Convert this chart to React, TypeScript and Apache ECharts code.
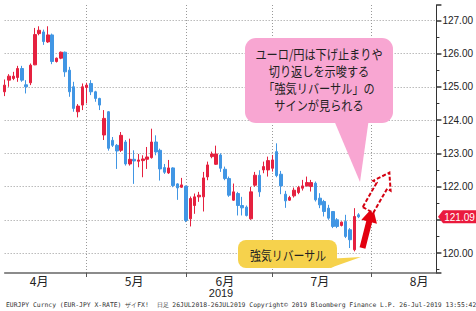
import React, { useEffect, useRef } from "react";
import * as echarts from "echarts";

// ---- data (EUR/JPY daily) ----
const firstDay = "2019-04-03";
const dayCount = 101; // trading days on the axis (Apr 3 .. Aug 21)
const monthLabelIdx = [8, 30, 51, 73, 96];
const lastPrice = 121.09;
const yTickLabels = ["120.00", "122.00", "123.00", "124.00", "125.00", "126.00", "127.00"];

const opens = [
  124.85, 125.2, 125.25, 125.28, 125.55, 125.06, 125.12, 125.66, 126.6, 126.65,
  126.35, 126.56, 125.76, 125.86, 126.04, 125.5, 125.0, 124.25, 124.45, 124.98,
  125.1, 124.85, 124.65, 123.55, 124.25, 123.39, 123.24, 123.09, 123.34, 122.68,
  122.82, 122.76, 122.78, 122.82, 122.87, 123.34, 123.09, 122.57, 122.41, 122.56,
  122.08, 121.98, 122.01, 121.03, 121.43, 121.69, 121.69, 122.29, 122.9, 122.67,
  122.95, 122.52, 122.24, 121.59, 121.79, 121.43, 121.38, 121.03, 122.04, 122.34,
  122.5, 122.5, 122.55, 123.05, 122.37, 121.77, 121.59, 121.72, 121.82, 121.95,
  122.02, 122.0, 122.1, 121.65, 121.55, 121.35, 121.25, 121.0, 120.83, 120.95,
  120.7, 120.1, 121.15,
];
const closes = [
  125.05, 125.32, 125.32, 125.55, 125.2, 125.0, 125.65, 126.57, 126.7, 126.36,
  126.56, 125.76, 125.86, 126.04, 125.45, 124.85, 124.35, 124.42, 125.0, 125.05,
  124.85, 124.65, 124.45, 124.05, 123.15, 123.24, 123.07, 123.54, 122.68, 122.82,
  122.77, 122.8, 122.83, 122.89, 123.34, 123.04, 122.53, 122.43, 122.56, 122.03,
  121.96, 122.05, 120.98, 121.64, 121.69, 121.74, 122.26, 122.65, 122.98, 122.98,
  122.55, 122.24, 121.74, 121.84, 121.43, 121.36, 121.13, 121.84, 122.34, 121.84,
  122.6, 122.78, 122.8, 122.33, 122.02, 121.57, 121.67, 121.89, 121.97, 122.02,
  122.12, 122.12, 121.6, 121.45, 121.25, 121.05, 120.8, 120.8, 120.93, 120.5,
  120.4, 121.1, 121.09,
];
const lows = [
  124.72, 125.0, 125.2, 125.15, 125.15, 124.8, 125.05, 125.65, 126.55, 126.26,
  126.32, 125.68, 125.73, 125.83, 125.3, 124.7, 124.25, 124.08, 124.3, 124.5,
  124.75, 124.55, 124.3, 123.4, 123.08, 123.19, 122.53, 123.04, 122.63, 122.63,
  122.08, 122.58, 122.28, 122.53, 122.84, 122.94, 122.18, 122.38, 122.38, 121.98,
  121.6, 121.96, 120.93, 120.8, 121.18, 121.54, 121.25, 122.19, 122.85, 122.65,
  122.44, 122.19, 121.69, 121.57, 121.13, 121.13, 121.1, 121.0, 121.99, 121.69,
  122.4, 122.3, 122.45, 122.28, 121.77, 121.36, 121.57, 121.67, 121.77, 121.88,
  122.0, 121.85, 121.55, 121.35, 121.1, 121.0, 120.75, 120.75, 120.8, 120.45,
  120.15, 120.05, 121.05,
];
const highs = [
  125.22, 125.38, 125.45, 125.63, 125.63, 125.2, 125.7, 126.77, 126.82, 126.72,
  126.82, 126.6, 125.88, 126.06, 126.06, 125.6, 125.15, 124.48, 125.1, 125.12,
  125.2, 124.88, 124.67, 124.3, 124.27, 123.49, 123.28, 123.64, 123.4, 123.44,
  123.09, 122.98, 122.94, 123.19, 123.74, 123.54, 123.14, 122.68, 122.8, 122.58,
  122.1, 122.26, 122.03, 121.7, 121.79, 121.84, 122.44, 122.75, 123.05, 123.23,
  123.0, 122.6, 122.3, 122.09, 121.84, 121.69, 121.43, 121.99, 122.44, 122.49,
  122.75, 122.9, 122.95, 123.3, 122.47, 121.87, 121.72, 121.97, 122.02, 122.2,
  122.3, 122.2, 122.15, 121.8, 121.6, 121.45, 121.25, 121.05, 120.95, 121.15,
  120.75, 121.35, 121.2,
];

const bubbleText = "ユーロ/円は下げ止まりや\n切り返しを示唆する\n「強気リバーサル」の\nサインが見られる";
const labelText = "強気リバーサル";
const yearText = "2019";
const sourceText =
  "EURJPY Curncy (EUR-JPY X-RATE) ザイFX!  日足 26JUL2018-26JUL2019 Copyright© 2019 Bloomberg Finance L.P. 26-Jul-2019 13:55:42";

// trading-day calendar for the category axis
const categories: string[] = (() => {
  const out: string[] = [];
  const d = new Date(firstDay + "T00:00:00Z");
  while (out.length < dayCount) {
    const wd = d.getUTCDay();
    if (wd !== 0 && wd !== 6) out.push(d.toISOString().slice(0, 10));
    d.setUTCDate(d.getUTCDate() + 1);
  }
  return out;
})();
const monthEndIdx: number[] = categories
  .map((c, i) => (i + 1 < categories.length && categories[i + 1].slice(5, 7) !== c.slice(5, 7) ? i : -1))
  .filter((i) => i >= 0);

const RED = "#e5213f";
const BLUE = "#4196e4";

export default function App() {
  const ref = useRef<HTMLDivElement>(null);
  useEffect(() => {
    if (!ref.current) return;
    const chart = echarts.init(ref.current, null, { renderer: "svg" });
    const ohlc = opens.map((o, i) => [o, closes[i], lows[i], highs[i]]);
    const isMonthEnd = (i: number) => monthEndIdx.indexOf(i) >= 0;
    chart.setOption({
      animation: false,
      backgroundColor: "#fff",
      textStyle: { fontFamily: "Noto Sans CJK JP" },
      grid: { left: 4.66, right: 39.5, top: 5, bottom: 38 },
      xAxis: {
        type: "category",
        data: categories,
        boundaryGap: false,
        axisLine: { lineStyle: { color: "#666", width: 1.5 } },
        axisTick: { interval: (i: number) => isMonthEnd(i), length: 4, lineStyle: { color: "#555" } },
        splitLine: {
          show: true,
          interval: (i: number) => isMonthEnd(i),
          lineStyle: { type: [1, 2], color: "#999", width: 1 },
        },
        axisLabel: {
          interval: (i: number) => monthLabelIdx.indexOf(i) >= 0,
          formatter: (v: string) => `${parseInt(v.slice(5, 7), 10)}月`,
          fontSize: 12,
          lineHeight: 12,
          color: "#222",
          margin: 1,
          fontFamily: "Noto Sans CJK JP",
        },
      },
      yAxis: {
        type: "value",
        position: "right",
        min: 119.4,
        max: 127.46,
        splitNumber: 8,
        minInterval: 1,
        maxInterval: 1,
        axisLine: { show: true, lineStyle: { color: "#333", width: 1 } },
        axisTick: { show: true, length: 5, lineStyle: { color: "#333", width: 1.5 } },
        minorTick: { show: true, splitNumber: 2, length: 3, lineStyle: { color: "#333" } },
        splitLine: {
          show: true,
          showMinLine: false,
          showMaxLine: false,
          lineStyle: { type: [1, 2], color: "#999", width: 1 },
        },
        axisLabel: {
          showMinLabel: false,
          showMaxLabel: false,
          margin: 6,
          fontSize: 10,
          color: "#222",
          fontFamily: "Liberation Sans",
          formatter: (v: number) => {
            const s = v.toFixed(2);
            return yTickLabels.indexOf(s) >= 0 ? s : "";
          },
        },
      },
      series: [
        {
          type: "candlestick",
          data: ohlc,
          barWidth: 3,
          itemStyle: { color: RED, color0: BLUE, borderColor: RED, borderColor0: BLUE, borderWidth: 1 },
        },
      ],
    });

    const yLast = chart.convertToPixel({ yAxisIndex: 0 }, lastPrice) as number;

    chart.setOption({
      graphic: [
        // pink speech bubble
        {
          type: "polygon",
          shape: { points: [[333, 118], [369, 118], [360, 182]] },
          style: { fill: "#f8a6d2" },
          z: 100,
        },
        {
          type: "rect",
          shape: { x: 245, y: 38, width: 148, height: 85, r: 11 },
          style: { fill: "#f8a6d2" },
          z: 100,
        },
        {
          type: "text",
          x: 319,
          y: 79,
          scaleX: 0.86,
          style: {
            text: bubbleText,
            textAlign: "center",
            textVerticalAlign: "middle",
            align: "center",
            verticalAlign: "middle",
            fontSize: 13,
            lineHeight: 17,
            fill: "#222",
            fontFamily: "Noto Sans CJK JP",
          },
          z: 101,
        },
        // yellow label
        {
          type: "polygon",
          shape: { points: [[326, 259], [330, 268], [361, 257]] },
          style: { fill: "#f6d24c" },
          z: 100,
        },
        {
          type: "rect",
          shape: { x: 238, y: 240, width: 99, height: 28, r: 8 },
          style: { fill: "#f6d24c" },
          z: 100,
        },
        {
          type: "text",
          x: 288,
          y: 254.5,
          scaleX: 0.84,
          style: {
            text: labelText,
            textAlign: "center",
            textVerticalAlign: "middle",
            align: "center",
            verticalAlign: "middle",
            fontSize: 13,
            fill: "#222",
            fontFamily: "Noto Sans CJK JP",
          },
          z: 101,
        },
        // solid red arrow
        {
          type: "polygon",
          x: 362.5,
          y: 248,
          rotation: -0.25,
          shape: { points: [[-3, 0], [3, 0], [3, -27], [8, -27], [0, -42], [-8, -27], [-3, -27]] },
          style: { fill: "#e3000f" },
          z: 100,
        },
        // dashed outline arrow
        {
          type: "polygon",
          x: 368,
          y: 210,
          rotation: -0.52,
          shape: { points: [[-6, 0], [6, 0], [6, -28], [10, -28], [0, -43], [-10, -28], [-6, -28]] },
          style: { fill: "#fff", stroke: "#d40010", lineWidth: 2, lineDash: [4, 2] },
          z: 100,
        },
        // last price tag
        {
          type: "polygon",
          shape: {
            points: [
              [438, yLast],
              [443, yLast - 6.5],
              [476, yLast - 6.5],
              [476, yLast + 6.5],
              [443, yLast + 6.5],
            ],
          },
          style: { fill: "#ea1a3d" },
          z: 100,
        },
        {
          type: "text",
          x: 459.5,
          y: yLast + 0.5,
          style: {
            text: lastPrice.toFixed(2),
            textAlign: "center",
            textVerticalAlign: "middle",
            align: "center",
            verticalAlign: "middle",
            fontSize: 10,
            fill: "#fff",
            fontFamily: "Liberation Sans",
          },
          z: 101,
        },
        // year under the month labels
        {
          type: "text",
          x: 221,
          y: 293,
          style: {
            text: yearText,
            textAlign: "center",
            textVerticalAlign: "middle",
            align: "center",
            verticalAlign: "middle",
            fontSize: 11,
            lineHeight: 11,
            fill: "#222",
            fontFamily: "Liberation Sans",
          },
          z: 100,
        },
        // source line
        {
          type: "text",
          x: 6,
          y: 304.5,
          style: {
            text: sourceText,
            textAlign: "left",
            textVerticalAlign: "middle",
            align: "left",
            verticalAlign: "middle",
            fontSize: 6.4,
            fill: "#333",
            fontFamily: "DejaVu Sans Mono",
          },
          z: 100,
        },
      ],
    });

    return () => chart.dispose();
  }, []);
  return (
    <div
      ref={ref}
      style={{ position: "fixed", left: 0, top: 0, width: 476, height: 311, background: "#fff" }}
    />
  );
}
